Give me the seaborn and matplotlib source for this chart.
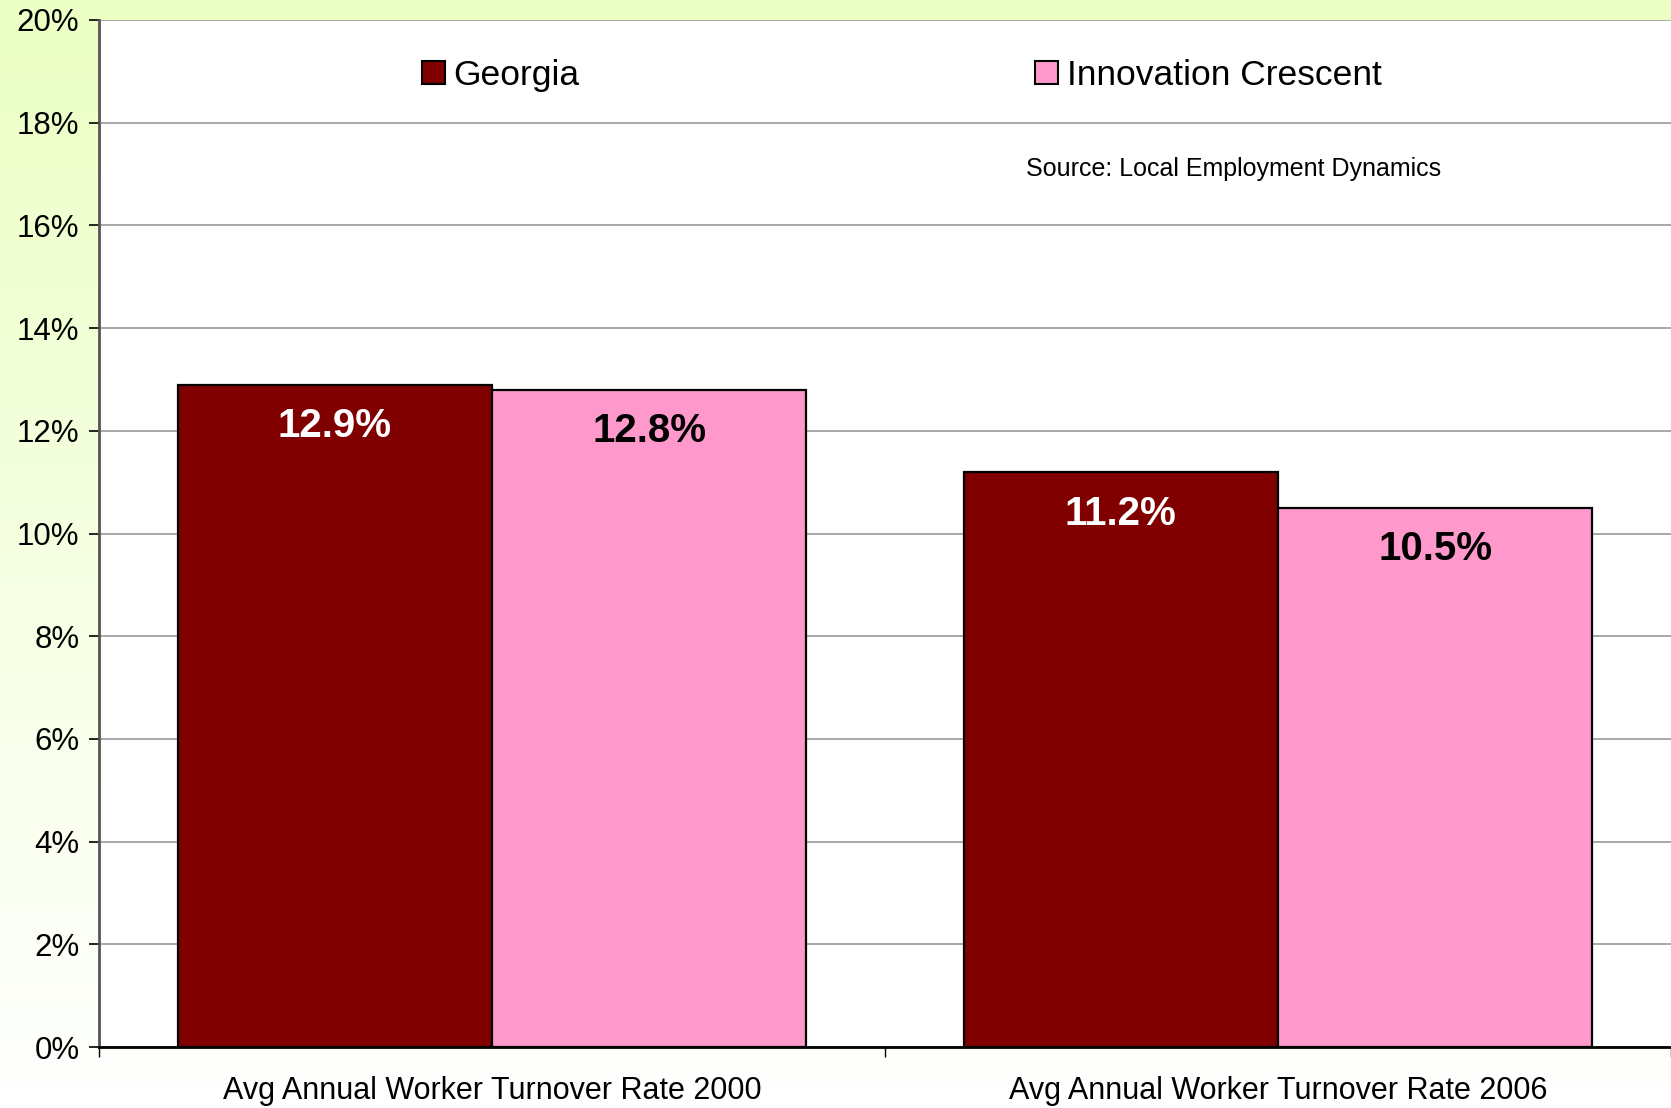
import numpy as np
import pandas as pd
import matplotlib
matplotlib.use("Agg")
import matplotlib.pyplot as plt
import seaborn as sns
from matplotlib.ticker import PercentFormatter, FixedLocator

categories = ["Avg Annual Worker Turnover Rate 2000", "Avg Annual Worker Turnover Rate 2006"]
series = ["Georgia", "Innovation Crescent"]
georgia = [12.9, 11.2]
crescent = [12.8, 10.5]
colors = ["#800000", "#FF99CC"]
label_colors = ["white", "black"]

df = pd.DataFrame({
    "category": categories * 2,
    "region": [series[0]] * 2 + [series[1]] * 2,
    "rate": georgia + crescent,
})

sns.set_style("white")
plt.rcParams["font.family"] = ["Liberation Sans", "DejaVu Sans"]
plt.rcParams["text.color"] = "black"
plt.rcParams["xtick.color"] = "black"
plt.rcParams["ytick.color"] = "black"

fig = plt.figure(figsize=(16.71, 11.08), dpi=100)

# gradient background
bg = fig.add_axes([0, 0, 1, 1], zorder=-10)
grad = np.linspace(0, 1, 256).reshape(-1, 1)
top = np.array([236, 255, 196]) / 255
bot = np.array([255, 255, 255]) / 255
img = top + (bot - top) * grad[..., None]
img = np.repeat(img, 2, axis=1)
bg.imshow(img, aspect="auto", extent=[0, 1, 0, 1], origin="upper")
bg.axis("off")

ax = fig.add_axes([0.0592, 0.055, 0.9408, 0.927])
ax.set_facecolor("white")

sns.barplot(data=df, x="category", y="rate", hue="region", palette=colors,
            saturation=1, edgecolor="black", linewidth=1.6, width=0.8, ax=ax, zorder=3)

ax.set_ylim(0, 20)
ax.set_xlim(-0.5, 1.5)
ax.yaxis.set_major_locator(FixedLocator(np.arange(0, 21, 2)))
ax.yaxis.set_major_formatter(PercentFormatter(decimals=0))
ax.yaxis.grid(True, color="#999999", linewidth=1.2, zorder=0)
ax.set_axisbelow(True)
ax.tick_params(axis="y", which="major", left=True, length=7, width=1.2,
               labelsize=22.5, pad=7, color="black")
ax.tick_params(axis="x", which="major", length=0, labelsize=22, pad=21)
ax.set_xticks([-0.5, 0.5, 1.5], minor=True)
ax.tick_params(axis="x", which="minor", bottom=True, length=7, width=1, color="black")
ax.set_xlabel("")
ax.set_ylabel("")

for s in ["top", "right"]:
    ax.spines[s].set_visible(False)
ax.spines["left"].set_color("#555555")
ax.spines["left"].set_linewidth(2)
ax.spines["bottom"].set_color("black")
ax.spines["bottom"].set_linewidth(2)

# value labels inside the bars
for cont, c in zip(ax.containers, label_colors):
    for bar in cont:
        h = bar.get_height()
        ax.annotate(f"{h:.1f}%", (bar.get_x() + bar.get_width() / 2, h),
                    xytext=(0, -30), textcoords="offset points",
                    ha="center", va="center", fontsize=29, fontweight="bold",
                    color=c, zorder=5)

leg = ax.legend(loc="upper left", bbox_to_anchor=(0.185, 0.993), ncol=2,
                frameon=False, fontsize=25.5, handlelength=0.65, handleheight=0.65,
                handletextpad=0.25, columnspacing=12.85)
for p in leg.get_patches():
    p.set_edgecolor("black")
    p.set_linewidth(1.5)

ax.text(0.59, 0.855, "Source: Local Employment Dynamics", transform=ax.transAxes,
        fontsize=18, ha="left", va="center")

fig.savefig("out.png", dpi=100)
